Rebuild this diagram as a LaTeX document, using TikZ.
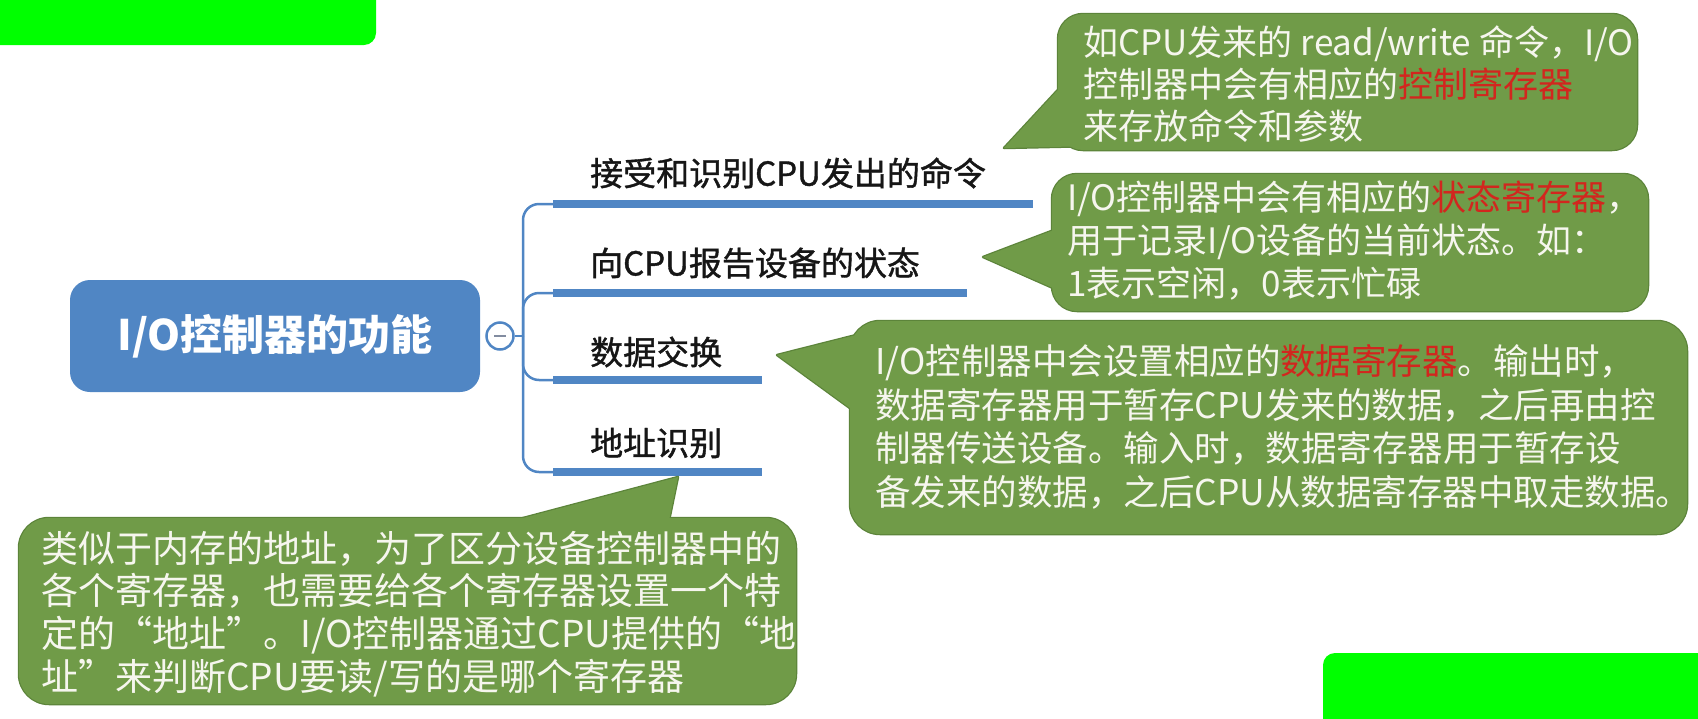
\documentclass[tikz,border=0pt]{standalone}
\usepackage{fontspec}
\setmainfont{Noto Sans CJK SC}
\newfontfamily\lblfont[FakeBold=1.2]{Noto Sans CJK SC}
\definecolor{mmblue}{RGB}{80,134,196}
\definecolor{cgreen}{RGB}{112,155,72}
\definecolor{cborder}{RGB}{92,132,58}
\definecolor{ctext}{RGB}{246,246,238}
\definecolor{cred}{RGB}{210,38,30}
\definecolor{limeg}{RGB}{0,255,0}
\definecolor{labtext}{RGB}{22,22,22}
\definecolor{minusc}{RGB}{130,140,160}
\tikzset{
  cedge/.style={draw=cborder, fill=cborder, line width=2.5pt, line join=round},
  cfill/.style={fill=cgreen},
  ctxt/.style={anchor=west, inner sep=0pt, align=left, text=ctext, font=\fontsize{35}{43}\selectfont},
  labeltxt/.style={anchor=west, inner sep=0pt, text=labtext, font=\lblfont\fontsize{33}{38}\selectfont},
  bar/.style={draw=mmblue, line width=8pt},
  branch/.style={draw=mmblue, line width=2.5pt, rounded corners=16pt},
  rootnode/.style={fill=mmblue, rounded corners=20pt, minimum width=410pt, minimum height=112pt, inner sep=0pt, text=white, font=\fontsize{42}{48}\selectfont\bfseries},
  collapse/.style={circle, draw=mmblue, fill=white, line width=2.5pt, minimum size=27pt, inner sep=0pt},
}
\begin{document}
\begin{tikzpicture}[x=1pt,y=-1pt]
\useasboundingbox (0,0) rectangle (1698,718);
% green highlight bars
\fill[limeg, rounded corners=12pt] (-20,-20) rectangle (376,45);
\fill[limeg, rounded corners=12pt] (1323,653) rectangle (1720,740);

% root
\node[rootnode] (root) at (275,336) {I/O控制器的功能};
\node[collapse] (col) at (500,336) {};
\draw[minusc, line width=2.5pt] (494,336) -- (506,336);
\coordinate (jn) at (523,336);
\coordinate (b1) at (553,204);
\coordinate (b2) at (553,293);
\coordinate (b3) at (553,380);
\coordinate (b4) at (553,472);
\coordinate (e1) at (1033,204);
\coordinate (e2) at (967,293);
\coordinate (e3) at (762,380);
\coordinate (e4) at (762,472);
\draw[branch, rounded corners=0pt] (col.east) -- (jn);
\foreach \b in {b1,b2,b3,b4} \draw[branch] (jn) |- (\b);
\draw[bar] (b1) -- (e1);
\draw[bar] (b2) -- (e2);
\draw[bar] (b3) -- (e3);
\draw[bar] (b4) -- (e4);
\node[labeltxt] (l1) at (590,173) {接受和识别CPU发出的命令};
\node[labeltxt] (l2) at (590,263) {向CPU报告设备的状态};
\node[labeltxt] (l3) at (590,352) {数据交换};
\node[labeltxt] (l4) at (590,443) {地址识别};

% callout borders
\path[cedge, rounded corners=25pt] (1058,14) rectangle (1637,150);
\path[cedge] (1004,148) -- (1080,66) -- (1095,146) -- cycle;
\path[cedge, rounded corners=25pt] (1052,174) rectangle (1648,311);
\path[cedge] (983,257) -- (1075,222) -- (1080,300) -- cycle;
\path[cedge, rounded corners=30pt] (850,321) rectangle (1687,534);
\path[cedge] (777,355) -- (880,329) -- (880,430) -- cycle;
\path[cedge, rounded corners=30pt] (19,518) rectangle (796,704);
\path[cedge] (678,477) -- (440,540) -- (665,540) -- cycle;
% callout fills
\path[cfill, rounded corners=25pt] (1058,14) rectangle (1637,150);
\path[cfill] (1004,148) -- (1080,66) -- (1095,146) -- cycle;
\path[cfill, rounded corners=25pt] (1052,174) rectangle (1648,311);
\path[cfill] (983,257) -- (1075,222) -- (1080,300) -- cycle;
\path[cfill, rounded corners=30pt] (850,321) rectangle (1687,534);
\path[cfill] (777,355) -- (880,329) -- (880,430) -- cycle;
\path[cfill, rounded corners=30pt] (19,518) rectangle (796,704);
\path[cfill] (678,477) -- (440,540) -- (665,540) -- cycle;

% callout texts
\node[ctxt, font=\fontsize{35}{42}\selectfont] (t1) at (1083,84)
  {如CPU发来的 read/write 命令，I/O\\控制器中会有相应的\textcolor{cred}{控制寄存器}\\来存放命令和参数};
\node[ctxt] (t2) at (1067,241)
  {I/O控制器中会有相应的\textcolor{cred}{状态寄存器}，\\用于记录I/O设备的当前状态。如：\\1表示空闲，0表示忙碌};
\node[ctxt, font=\fontsize{35.5}{43.5}\selectfont] (t3) at (875,427)
  {I/O控制器中会设置相应的\textcolor{cred}{数据寄存器}。输出时，\\数据寄存器用于暂存CPU发来的数据，之后再由控\\制器传送设备。输入时，数据寄存器用于暂存设\\备发来的数据，之后CPU从数据寄存器中取走数据。};
\node[ctxt, font=\fontsize{37}{42.7}\selectfont] (t4) at (41,614)
  {类似于内存的地址，为了区分设备控制器中的\\各个寄存器，也需要给各个寄存器设置一个特\\定的“地址”。I/O控制器通过CPU提供的“地\\址”来判断CPU要读/写的是哪个寄存器};
\end{tikzpicture}
\end{document}
